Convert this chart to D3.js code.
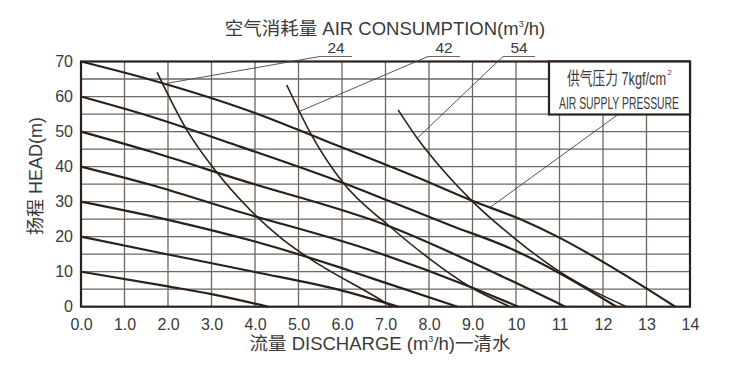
<!DOCTYPE html>
<html>
<head>
<meta charset="utf-8">
<script src="https://cdn.jsdelivr.net/npm/d3@7"></script>
<style>
  body { margin: 0; background: #fff; }
  text { font-family: "Liberation Sans", Arial, "Noto Sans CJK SC", sans-serif; }
</style>
</head>
<body>
<div class="chart"></div>
<script>
// head curves at zero flow 10..70 m, one per supply pressure
var head10 = [[0, 10], [2, 5.8], [3, 3.6], [4.3, 0]];
var head20 = [[0, 20], [2, 14.9], [4, 9.9], [6, 4.6], [7.3, 0]];
var head30 = [[0, 30], [2, 24.8], [4, 18.6], [6, 11], [6.76, 7.8], [8.65, 0]];
var head40 = [[0, 40], [1.6, 34.8], [3.5, 27.6], [6.64, 16.2], [8.94, 5.7], [10.05, 0]];
var head50 = [[0, 50], [1.6, 44.3], [3.66, 36.2], [7.1, 22.9], [9.86, 7.6], [11.13, 0]];
var head60 = [[0, 60], [1.6, 54.3], [3.66, 45.7], [6.03, 35.3], [7.1, 30.1], [8.5, 23.2], [9.86, 16.7], [10.94, 10], [12.31, 0]];
var head70 = [[0, 70], [1.6, 64.8], [4, 55.3], [5.57, 47.6], [7.75, 36.8], [8.98, 30.3], [10.13, 24.8], [10.95, 20], [11.93, 13.3], [13.66, 0]];

// air consumption curves (m3/h)
var air24 = [[1.75, 66.9], [2.43, 50.5], [3.08, 39], [3.89, 27.6], [4.65, 19.1], [5.19, 14.3], [6.76, 2.9], [7.15, 0]];
var air42 = [[4.73, 63.3], [5.3, 49], [6.03, 35.3], [7.1, 22.9], [8.0, 13.8], [8.94, 5.7], [9.86, 0]];
var air54 = [[7.29, 56.2], [7.73, 48.1], [8.3, 39.3], [8.98, 30.3], [10.01, 19.1], [10.94, 10.5], [12.54, 0]];

var airNames = ['24', '42', '54'];
var airTargets = [[1.9, 63.6], [5.03, 55.8], [7.73, 48.1]];   // where each leader touches its curve
var pressureTarget = [9.4, 28.3];

var xTickLabels = ['0.0', '1.0', '2.0', '3.0', '4.0', '5.0', '6.0', '7.0', '8.0', '9.0', '10', '11', '12', '13', '14'];
var yTickValues = [0, 10, 20, 30, 40, 50, 60, 70];

var W = 750, H = 371;
var x = d3.scaleLinear().domain([0, 14]).range([81, 690]);
var y = d3.scaleLinear().domain([0, 70]).range([306.7, 61.5]);

var ink = '#2a211c';
var gridCol = '#6e6660';
var labelCol = '#3a3a3a';

var svg = d3.select('.chart')
  .append('svg')
    .attr('width', W)
    .attr('height', H);

// grid
svg.append('g')
  .selectAll('line')
  .data(d3.range(1, 14))
  .enter()
    .append('line')
    .attr('x1', d => x(d)).attr('x2', d => x(d))
    .attr('y1', y(0)).attr('y2', y(70))
    .attr('stroke', gridCol).attr('stroke-width', 1.3);

svg.append('g')
  .selectAll('line')
  .data(d3.range(5, 70, 5))
  .enter()
    .append('line')
    .attr('x1', x(0)).attr('x2', x(14))
    .attr('y1', d => y(d)).attr('y2', d => y(d))
    .attr('stroke', gridCol).attr('stroke-width', 1.3);

// axes labels
var xAxis = d3.axisBottom(x)
  .tickValues(d3.range(0, 15))
  .tickFormat((d, i) => xTickLabels[i])
  .tickSize(0).tickPadding(12);
var gx = svg.append('g').attr('transform', 'translate(0,' + y(0) + ')').call(xAxis);
gx.select('.domain').remove();
gx.selectAll('text').attr('font-size', 16).attr('fill', labelCol)
  .attr('font-family', '"Liberation Sans", Arial, sans-serif');

var yAxis = d3.axisLeft(y)
  .tickValues(yTickValues)
  .tickFormat(d3.format('d'))
  .tickSize(0).tickPadding(8);
var gy = svg.append('g').attr('transform', 'translate(' + x(0) + ',0)').call(yAxis);
gy.select('.domain').remove();
gy.selectAll('text').attr('font-size', 16).attr('fill', labelCol)
  .attr('font-family', '"Liberation Sans", Arial, sans-serif');

// curves
var line = d3.line()
  .x(d => x(d[0]))
  .y(d => y(d[1]))
  .curve(d3.curveMonotoneX);

svg.append('g')
  .selectAll('path')
  .data([head10, head20, head30, head40, head50, head60, head70])
  .enter()
    .append('path')
    .attr('d', line)
    .attr('fill', 'none')
    .attr('stroke', ink)
    .attr('stroke-width', 2.2);

svg.append('g')
  .selectAll('path')
  .data([air24, air42, air54])
  .enter()
    .append('path')
    .attr('d', line)
    .attr('fill', 'none')
    .attr('stroke', ink)
    .attr('stroke-width', 1.6);

// plot border
svg.append('rect')
  .attr('x', x(0)).attr('y', y(70))
  .attr('width', x(14) - x(0)).attr('height', y(0) - y(70))
  .attr('fill', 'none').attr('stroke', ink).attr('stroke-width', 2.2);

// air consumption labels with leaders
var labelX = [336, 444, 519];
var lab = svg.append('g');
airNames.forEach(function (n, i) {
  var lx = labelX[i];
  lab.append('text')
    .attr('x', lx).attr('y', 53)
    .attr('text-anchor', 'middle')
    .attr('font-size', 15.5).attr('fill', labelCol)
    .text(n);
  lab.append('line')
    .attr('x1', lx - 16).attr('x2', lx + 16)
    .attr('y1', 56.5).attr('y2', 56.5)
    .attr('stroke', '#555').attr('stroke-width', 0.9);
  lab.append('line')
    .attr('x1', lx - 16).attr('y1', 56.5)
    .attr('x2', x(airTargets[i][0])).attr('y2', y(airTargets[i][1]))
    .attr('stroke', '#444').attr('stroke-width', 0.9);
});

// pressure box
var bx = 549, by = y(70), bw = x(14) - 549, bh = 53;
svg.append('line')
  .attr('x1', 618).attr('y1', by + bh)
  .attr('x2', x(pressureTarget[0])).attr('y2', y(pressureTarget[1]))
  .attr('stroke', '#444').attr('stroke-width', 0.9);
svg.append('rect')
  .attr('x', bx).attr('y', by).attr('width', bw).attr('height', bh)
  .attr('fill', '#fff').attr('stroke', ink).attr('stroke-width', 2.2);
svg.append('text')
  .attr('x', 567).attr('y', 85)
  .attr('font-size', 18).attr('fill', labelCol)
  .attr('font-family', '"Liberation Sans Narrow", "Noto Sans CJK SC", sans-serif')
  .attr('textLength', 99).attr('lengthAdjust', 'spacingAndGlyphs')
  .text('供气压力 7kgf/cm');
svg.append('text')
  .attr('x', 667.5).attr('y', 75)
  .attr('font-size', 7.5).attr('fill', labelCol)
  .text('2');
svg.append('text')
  .attr('x', 619).attr('y', 109)
  .attr('text-anchor', 'middle')
  .attr('font-size', 16.5).attr('fill', labelCol)
  .attr('font-family', '"Liberation Sans Narrow", "Liberation Sans", sans-serif')
  .attr('textLength', 120).attr('lengthAdjust', 'spacingAndGlyphs')
  .text('AIR SUPPLY PRESSURE');

// titles
var title = svg.append('text')
  .attr('x', 385).attr('y', 35)
  .attr('text-anchor', 'middle')
  .attr('font-size', 18.5).attr('fill', labelCol);
title.append('tspan').text('空气消耗量 AIR CONSUMPTION(m');
title.append('tspan').attr('font-size', 9).attr('dy', -8).text('3');
title.append('tspan').attr('dy', 8).text('/h)');

var xt = svg.append('text')
  .attr('x', 380).attr('y', 350)
  .attr('text-anchor', 'middle')
  .attr('font-size', 18.5).attr('fill', labelCol);
xt.append('tspan').text('流量 DISCHARGE (m');
xt.append('tspan').attr('font-size', 9).attr('dy', -8).text('3');
xt.append('tspan').attr('dy', 8).text('/h)一清水');

svg.append('text')
  .attr('transform', 'translate(42,176) rotate(-90)')
  .attr('text-anchor', 'middle')
  .attr('font-size', 18).attr('fill', labelCol)
  .text('扬程 HEAD(m)');
</script>
</body>
</html>
